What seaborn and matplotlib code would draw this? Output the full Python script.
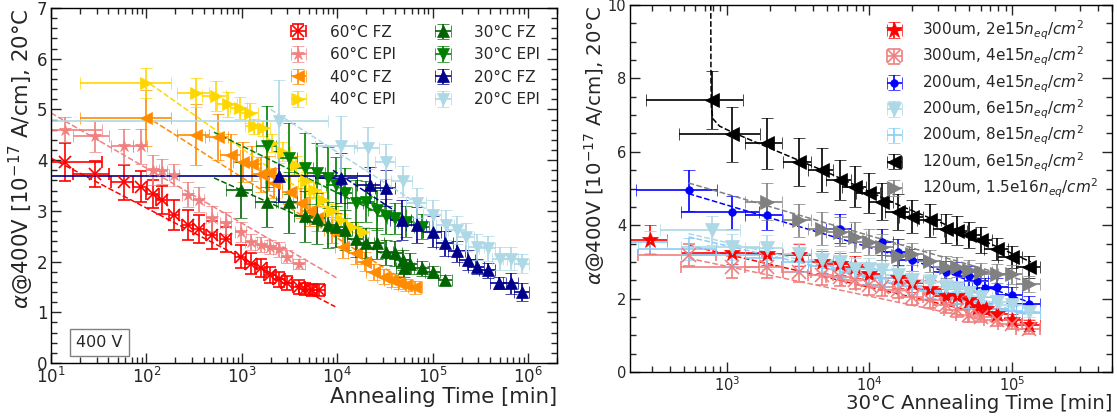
import numpy as np
import pandas as pd
import matplotlib
matplotlib.use("Agg")
import matplotlib.pyplot as plt
import seaborn as sns
from matplotlib.ticker import LogLocator, MultipleLocator, NullFormatter

# ---------------- Left panel data ----------------
t60fz = [14, 29, 58, 87, 116, 145, 196, 273, 355, 482, 684, 986, 1260, 1600, 1990, 2470, 2940, 3980, 4550, 5420, 6460]
a60fz = [3.96, 3.73, 3.56, 3.48, 3.33, 3.22, 2.92, 2.72, 2.64, 2.52, 2.44, 2.10, 1.96, 1.87, 1.73, 1.65, 1.57, 1.50, 1.46, 1.44, 1.44]
xe60fz = [20, 12, 15, 15, 18, 20, 25, 35, 45, 60, 90, 130, 170, 220, 270, 330, 400, 550, 620, 750, 900]
ye60fz = [0.38, 0.25, 0.35, 0.30, 0.28, 0.28, 0.30, 0.30, 0.28, 0.28, 0.25, 0.22, 0.20, 0.18, 0.16, 0.15, 0.14, 0.13, 0.12, 0.12, 0.12]

t60epi = [14, 29, 58, 87, 116, 145, 196, 273, 355, 482, 684, 986, 1260, 1600, 1990, 2470, 2940, 3980]
a60epi = [4.60, 4.47, 4.27, 4.27, 3.81, 3.78, 3.71, 3.32, 3.22, 2.85, 2.76, 2.59, 2.39, 2.33, 2.29, 2.24, 2.10, 1.96]
xe60epi = [20, 12, 15, 15, 18, 20, 25, 35, 45, 60, 90, 130, 170, 220, 270, 330, 400, 550]
ye60epi = [0.25, 0.30, 0.35, 0.35, 0.30, 0.25, 0.22, 0.25, 0.25, 0.25, 0.22, 0.20, 0.16, 0.15, 0.14, 0.14, 0.12, 0.10]

t40fz = [100, 331, 560, 773, 1030, 1280, 1600, 1900, 2170, 3210, 4170, 5190, 6180, 8770, 11400, 15500, 19300, 24000, 31100, 37100, 44200, 52500, 65500]
a40fz = [4.83, 4.50, 4.46, 4.11, 3.96, 3.93, 3.72, 3.74, 3.55, 3.38, 3.15, 2.99, 2.85, 2.62, 2.29, 2.16, 2.00, 1.80, 1.70, 1.63, 1.58, 1.54, 1.49]
xe40fz = [80, 120, 150, 180, 220, 270, 330, 380, 430, 600, 750, 900, 1100, 1500, 1900, 2600, 3200, 4000, 5200, 6200, 7400, 8800, 11000]
ye40fz = [0.55, 0.60, 0.45, 0.40, 0.40, 0.35, 0.35, 0.35, 0.30, 0.30, 0.30, 0.28, 0.25, 0.25, 0.22, 0.20, 0.18, 0.16, 0.15, 0.14, 0.13, 0.12, 0.12]

t40epi = [100, 331, 536, 714, 944, 1210, 1340, 1670, 2070, 2700, 3660, 4750, 5660, 7050, 8770, 10900, 14200, 18500]
a40epi = [5.52, 5.33, 5.26, 5.10, 5.03, 4.93, 4.67, 4.63, 4.34, 4.17, 3.91, 3.58, 3.41, 3.22, 2.99, 2.82, 2.69, 2.59]
xe40epi = [80, 120, 150, 170, 200, 250, 270, 320, 400, 500, 650, 850, 1000, 1200, 1500, 1800, 2300, 3000]
ye40epi = [0.30, 0.28, 0.30, 0.25, 0.22, 0.20, 0.15, 0.15, 0.18, 0.18, 0.18, 0.18, 0.15, 0.15, 0.15, 0.12, 0.10, 0.10]

t30fz = [986, 1820, 3080, 4550, 6080, 8040, 9570, 11900, 15500, 20100, 26100, 32500, 40500, 48200, 50100, 57400, 77600, 101000, 135000]
a30fz = [3.41, 3.18, 3.17, 2.89, 2.85, 2.72, 2.69, 2.62, 2.44, 2.37, 2.36, 2.18, 2.16, 2.03, 1.87, 1.96, 1.87, 1.80, 1.63]
xe30fz = [300, 450, 700, 1000, 1300, 1700, 2000, 2400, 3000, 4000, 5000, 6200, 7500, 9000, 9300, 10500, 14000, 18000, 22000]
ye30fz = [0.55, 0.50, 0.60, 0.50, 0.50, 0.45, 0.40, 0.40, 0.35, 0.30, 0.30, 0.25, 0.25, 0.20, 0.18, 0.20, 0.15, 0.12, 0.10]

t30epi = [1850, 3080, 4550, 6080, 8040, 9570, 11900, 15500, 20100, 26100, 32500, 40500, 52500, 77600]
a30epi = [4.27, 4.04, 3.84, 3.74, 3.65, 3.51, 3.35, 3.15, 3.18, 3.02, 2.89, 2.85, 2.79, 2.69]
xe30epi = [450, 700, 1000, 1300, 1700, 2000, 2400, 3000, 4000, 5000, 6200, 7500, 9500, 14000]
ye30epi = [0.80, 0.70, 0.70, 0.60, 0.60, 0.55, 0.50, 0.45, 0.40, 0.40, 0.35, 0.30, 0.30, 0.25]

t20fz = [2470, 10900, 22000, 32500, 47400, 68400, 101000, 135000, 179000, 232000, 289000, 376000, 489000, 664000, 861000]
a20fz = [3.68, 3.65, 3.51, 3.45, 2.82, 2.72, 2.59, 2.36, 2.20, 2.03, 1.90, 1.83, 1.57, 1.57, 1.40]
xe20fz = [19500, 5000, 6000, 8000, 12000, 16000, 22000, 28000, 36000, 45000, 55000, 70000, 90000, 120000, 150000]
ye20fz = [0.50, 0.50, 0.35, 0.35, 0.40, 0.35, 0.30, 0.25, 0.20, 0.20, 0.15, 0.15, 0.12, 0.20, 0.18]

t20epi = [2470, 10900, 21000, 32500, 48200, 68400, 101000, 137000, 179000, 222000, 289000, 376000, 511000, 664000, 861000]
a20epi = [4.77, 4.27, 4.24, 3.97, 3.58, 3.15, 2.92, 2.72, 2.62, 2.49, 2.29, 2.26, 2.06, 2.06, 1.96]
xe20epi = [5600, 5000, 6000, 8000, 12000, 16000, 22000, 28000, 36000, 45000, 55000, 70000, 90000, 120000, 150000]
ye20epi = [0.82, 0.60, 0.42, 0.35, 0.30, 0.30, 0.30, 0.30, 0.28, 0.28, 0.25, 0.25, 0.22, 0.22, 0.18]

# fit lines (read end points)
fit60fz_t = [10, 9500];     fit60fz_a = [4.04, 1.11]
fit60epi_t = [10, 10000];   fit60epi_a = [4.93, 1.67]
fit40fz_t = [100, 70000];   fit40fz_a = [4.86, 1.45]
fit40epi_t = [110, 18500];  fit40epi_a = [5.50, 2.55]
fit30fz_t = [510, 60000];   fit30fz_a = [3.65, 1.90]
fit30epi_t = [510, 40000];  fit30epi_a = [4.55, 2.80]
fit20fz_t = [9000, 40000];  fit20fz_a = [3.80, 3.00]
fit20epi_t = [2000, 100000]; fit20epi_a = [5.00, 2.95]

left_labels = ["60°C FZ", "60°C EPI", "40°C FZ", "40°C EPI",
               "30°C FZ", "30°C EPI", "20°C FZ", "20°C EPI"]

# ---------------- Right panel data ----------------
r300a_t = [290, 1080, 1900, 3190, 4630, 6170, 7940, 10000, 15850, 19950, 26550, 34300, 40700, 49800, 58000, 66000, 78700, 98900, 131500]
r300a_a = [3.61, 3.25, 3.21, 3.18, 3.00, 2.95, 2.86, 2.68, 2.55, 2.43, 2.25, 2.06, 2.06, 1.97, 1.77, 1.73, 1.59, 1.43, 1.27]
r300a_xe = [90, 600, 550, 700, 900, 1200, 1500, 1900, 3000, 3800, 5000, 6500, 7700, 9500, 11000, 12500, 15000, 19000, 25000]
r300a_ye = [0.40, 0.30, 0.30, 0.30, 0.30, 0.30, 0.30, 0.28, 0.25, 0.25, 0.25, 0.20, 0.20, 0.20, 0.15, 0.15, 0.15, 0.15, 0.15]

r300b_t = [540, 1080, 1900, 3190, 4630, 6170, 7940, 10000, 12250, 15850, 19950, 26550, 34300, 40700, 49800, 60300, 78700, 98900, 131500]
r300b_a = [3.18, 2.86, 2.86, 2.73, 2.64, 2.59, 2.50, 2.36, 2.32, 2.23, 2.05, 1.95, 1.82, 1.68, 1.55, 1.50, 1.41, 1.32, 1.18]
r300b_xe = [300, 600, 550, 700, 900, 1200, 1500, 1900, 2300, 3000, 3800, 5000, 6500, 7700, 9500, 11500, 15000, 19000, 25000]
r300b_ye = [0.30, 0.30, 0.30, 0.28, 0.28, 0.25, 0.25, 0.25, 0.25, 0.22, 0.22, 0.20, 0.20, 0.18, 0.18, 0.15, 0.15, 0.15, 0.15]

r200a_t = [540, 1080, 1900, 6170, 12250, 15850, 19950, 34300, 40700, 49800, 57000, 64000, 78700, 98900, 131500]
r200a_a = [4.95, 4.35, 4.27, 3.91, 3.55, 3.27, 3.06, 2.73, 2.73, 2.61, 2.47, 2.30, 2.32, 2.09, 1.86]
r200a_xe = [310, 600, 550, 1200, 2300, 3000, 3800, 6500, 7700, 9500, 11000, 12000, 15000, 19000, 25000]
r200a_ye = [0.55, 0.45, 0.40, 0.40, 0.35, 0.35, 0.30, 0.30, 0.28, 0.28, 0.25, 0.25, 0.25, 0.22, 0.20]

r200b_t = [790, 1080, 1900, 3190, 4630, 6170, 7940, 10000, 12250, 15850, 19950, 26550, 34300, 40700, 49800, 60300, 78700, 98900, 131500]
r200b_a = [3.86, 3.41, 3.39, 3.21, 3.06, 3.00, 2.82, 2.82, 2.79, 2.64, 2.50, 2.45, 2.32, 2.27, 2.14, 2.05, 1.91, 1.82, 1.64]
r200b_xe = [450, 600, 550, 700, 900, 1200, 1500, 1900, 2300, 3000, 3800, 5000, 6500, 7700, 9500, 11500, 15000, 19000, 25000]
r200b_ye = [0.40, 0.35, 0.35, 0.30, 0.30, 0.30, 0.28, 0.28, 0.25, 0.25, 0.25, 0.22, 0.22, 0.20, 0.20, 0.18, 0.18, 0.15, 0.15]

r200c_t = [290, 540, 1080, 1900, 3190, 4630, 6170, 7940, 10000, 12250, 15850, 19950, 26550, 34300, 40700, 49800, 60300, 78700, 98900, 131500]
r200c_a = [3.55, 3.36, 3.20, 3.10, 3.00, 2.90, 2.80, 2.72, 2.62, 2.55, 2.42, 2.33, 2.22, 2.15, 2.02, 1.93, 1.82, 1.72, 1.66, 1.60]
r200c_xe = [90, 300, 600, 550, 700, 900, 1200, 1500, 1900, 2300, 3000, 3800, 5000, 6500, 7700, 9500, 11500, 15000, 19000, 25000]
r200c_ye = [0.30, 0.30, 0.30, 0.28, 0.28, 0.25, 0.25, 0.25, 0.22, 0.22, 0.22, 0.20, 0.20, 0.18, 0.18, 0.18, 0.15, 0.15, 0.15, 0.15]

r120a_t = [790, 1080, 1900, 3190, 4630, 6170, 7940, 10000, 12250, 15850, 19950, 26550, 34300, 40700, 49800, 60300, 78700, 98900, 131500]
r120a_a = [7.41, 6.48, 6.23, 5.73, 5.50, 5.23, 5.05, 4.88, 4.64, 4.36, 4.23, 4.14, 3.91, 3.85, 3.73, 3.59, 3.36, 3.14, 2.86]
r120a_xe = [520, 620, 550, 700, 900, 1200, 1500, 1900, 2300, 3000, 3800, 5000, 6500, 7700, 9500, 11500, 15000, 19000, 25000]
r120a_ye = [0.80, 0.75, 0.70, 0.65, 0.60, 0.55, 0.55, 0.55, 0.50, 0.50, 0.45, 0.45, 0.40, 0.40, 0.35, 0.35, 0.30, 0.30, 0.30]

r120b_t = [1900, 3190, 4630, 6170, 7940, 10000, 12250, 15850, 19950, 26550, 34300, 40700, 49800, 60300, 78700, 98900, 131500]
r120b_a = [4.64, 4.14, 3.91, 3.82, 3.68, 3.55, 3.41, 3.15, 3.21, 3.02, 2.86, 2.86, 2.77, 2.73, 2.68, 2.66, 2.39]
r120b_xe = [550, 700, 900, 1200, 1500, 1900, 2300, 3000, 3800, 5000, 6500, 7700, 9500, 11500, 15000, 19000, 25000]
r120b_ye = [0.50, 0.45, 0.45, 0.40, 0.40, 0.35, 0.35, 0.35, 0.30, 0.30, 0.30, 0.28, 0.28, 0.25, 0.25, 0.25, 0.22]

rfit300a_t = [540, 131500];  rfit300a_a = [3.45, 1.30]
rfit300b_t = [540, 131500];  rfit300b_a = [3.10, 1.15]
rfit200a_t = [540, 2000, 20000, 131500];  rfit200a_a = [4.86, 4.20, 3.05, 1.90]
rfit200b_t = [540, 131500];  rfit200b_a = [3.77, 1.60]
rfit200c_t = [540, 131500];  rfit200c_a = [3.68, 1.55]
rfit120a_t = [773, 775, 780, 800, 890, 1070, 2000, 5000, 16000, 50000, 135000]
rfit120a_a = [10.0, 8.0, 7.2, 6.9, 6.7, 6.55, 6.10, 5.45, 4.55, 3.75, 3.00]
rfit120b_t = [540, 131500];  rfit120b_a = [5.15, 2.45]

right_labels = [r"300um, 2e15$n_{eq}/cm^2$", r"300um, 4e15$n_{eq}/cm^2$",
                r"200um, 4e15$n_{eq}/cm^2$", r"200um, 6e15$n_{eq}/cm^2$",
                r"200um, 8e15$n_{eq}/cm^2$", r"120um, 6e15$n_{eq}/cm^2$",
                r"120um, 1.5e16$n_{eq}/cm^2$"]

# ---------------- Style ----------------
sns.set_theme(style="ticks")
plt.rcParams["font.family"] = ["DejaVu Sans"]
plt.rcParams["mathtext.fontset"] = "dejavusans"
plt.rcParams.update({
    "xtick.direction": "in", "ytick.direction": "in",
    "xtick.top": True, "ytick.right": True,
    "axes.linewidth": 1.0, "axes.edgecolor": "black",
})

W, H = 1117, 416
fig = plt.figure(figsize=(W / 100, H / 100), dpi=100)
ax1 = fig.add_axes([51 / W, (H - 363) / H, (557 - 51) / W, (363 - 8) / H])
ax2 = fig.add_axes([630 / W, (H - 372) / H, (1112 - 630) / W, (372 - 5) / H])

def errs(ax, t, a, xe, ye, color, marker, label, ms=8):
    return ax.errorbar(t, a, xerr=xe, yerr=ye, fmt=marker, color=color, ms=ms,
                       capsize=4.5, elinewidth=1.2, capthick=1.2, label=label,
                       markeredgewidth=1.2 if marker == "x" else 0.5)

def fit(ax, t, a, color):
    sns.lineplot(x=t, y=a, ax=ax, color=color, linestyle="--", lw=1.1,
                 legend=False, sort=False)

def style_axis(ax, labelsize):
    ax.xaxis.set_major_locator(LogLocator(base=10, numticks=10))
    ax.xaxis.set_minor_locator(LogLocator(base=10, subs=np.arange(2, 10), numticks=100))
    ax.xaxis.set_minor_formatter(NullFormatter())
    ax.tick_params(which="major", length=7, width=1, labelsize=labelsize, pad=2.5)
    ax.tick_params(which="minor", length=4, width=1)

# Left panel
left_series = [
    (t60fz, a60fz, xe60fz, ye60fz, "red", "x", fit60fz_t, fit60fz_a),
    (t60epi, a60epi, xe60epi, ye60epi, "lightcoral", "*", fit60epi_t, fit60epi_a),
    (t40fz, a40fz, xe40fz, ye40fz, "darkorange", "<", fit40fz_t, fit40fz_a),
    (t40epi, a40epi, xe40epi, ye40epi, "gold", ">", fit40epi_t, fit40epi_a),
    (t30fz, a30fz, xe30fz, ye30fz, "darkgreen", "^", fit30fz_t, fit30fz_a),
    (t30epi, a30epi, xe30epi, ye30epi, "green", "v", fit30epi_t, fit30epi_a),
    (t20fz, a20fz, xe20fz, ye20fz, "darkblue", "^", fit20fz_t, fit20fz_a),
    (t20epi, a20epi, xe20epi, ye20epi, "lightblue", "v", fit20epi_t, fit20epi_a),
]
ax1.set_xscale("log")
handles = []
for (t, a, xe, ye, c, m, ft, fa), lab in zip(left_series, left_labels):
    fit(ax1, ft, fa, c)
    handles.append(errs(ax1, t, a, xe, ye, c, m, lab, ms=9 if m != "x" else 8))

ax1.set_xlim(10, 2e6)
ax1.set_ylim(0, 7)
ax1.yaxis.set_major_locator(MultipleLocator(1))
ax1.yaxis.set_minor_locator(MultipleLocator(0.2))
style_axis(ax1, 12)
ax1.set_xlabel("Annealing Time [min]", fontsize=15.3, loc="right", labelpad=0)
ax1.set_ylabel(r"$\alpha$@400V [$10^{-17}$ A/cm], 20°C", fontsize=15.3, loc="top", labelpad=1)
ax1.legend(handles=handles, labels=left_labels, ncol=2, frameon=False, loc="upper right",
           bbox_to_anchor=(1.0, 1.0), fontsize=11, handlelength=1.2, handletextpad=1.45,
           columnspacing=2.5, labelspacing=0.49, borderaxespad=0.7)
ax1.text(0.05, 0.058, "400 V", transform=ax1.transAxes, fontsize=11.5, va="center", ha="left",
         bbox=dict(boxstyle="square,pad=0.4", fc="white", ec="gray", lw=1))

# Right panel
right_series = [
    (r300a_t, r300a_a, r300a_xe, r300a_ye, "red", "*", rfit300a_t, rfit300a_a),
    (r300b_t, r300b_a, r300b_xe, r300b_ye, "lightcoral", "x", rfit300b_t, rfit300b_a),
    (r200a_t, r200a_a, r200a_xe, r200a_ye, "blue", ".", rfit200a_t, rfit200a_a),
    (r200b_t, r200b_a, r200b_xe, r200b_ye, "lightblue", "v", rfit200b_t, rfit200b_a),
    (r200c_t, r200c_a, r200c_xe, r200c_ye, "lightskyblue", ",", rfit200c_t, rfit200c_a),
    (r120a_t, r120a_a, r120a_xe, r120a_ye, "black", "<", rfit120a_t, rfit120a_a),
    (r120b_t, r120b_a, r120b_xe, r120b_ye, "gray", ">", rfit120b_t, rfit120b_a),
]
ax2.set_xscale("log")
handles2 = []
for (t, a, xe, ye, c, m, ft, fa), lab in zip(right_series, right_labels):
    fit(ax2, ft, fa, c)
    ms = {"x": 10, "*": 12, ".": 11, ",": 1}.get(m, 10)
    handles2.append(errs(ax2, t, a, xe, ye, c, m, lab, ms=ms))

ax2.set_xlim(210, 5e5)
ax2.set_ylim(0, 10)
ax2.yaxis.set_major_locator(MultipleLocator(2))
ax2.yaxis.set_minor_locator(MultipleLocator(0.5))
style_axis(ax2, 10.5)
ax2.set_xlabel("30°C Annealing Time [min]", fontsize=14.2, loc="right", labelpad=0)
ax2.set_ylabel(r"$\alpha$@400V [$10^{-17}$ A/cm], 20°C", fontsize=14.2, loc="top", labelpad=1)
ax2.legend(handles=handles2, labels=right_labels, ncol=1, frameon=False, loc="upper right",
           bbox_to_anchor=(1.0, 1.0), fontsize=11, handlelength=1.0, handletextpad=1.3,
           labelspacing=0.2)

fig.savefig("out.png", dpi=100)
